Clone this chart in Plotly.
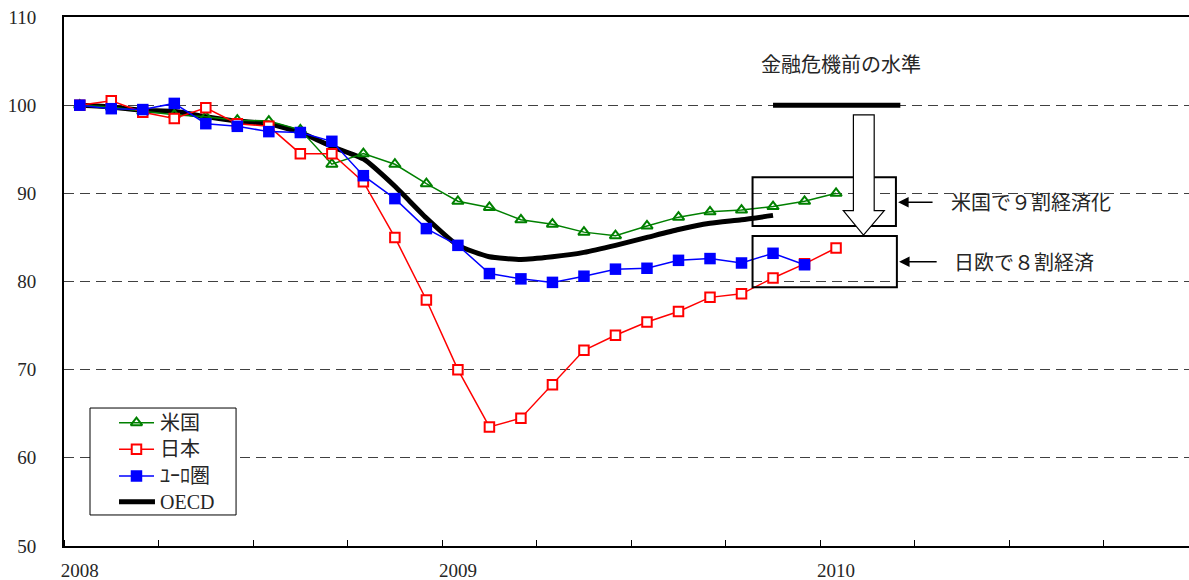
import plotly.graph_objects as go

# Monthly index, Jan 2008 = 0
months_us = list(range(25))
months_jp = list(range(25))
months_eu = list(range(24))
months_oecd = list(range(23))

us = [100.0, 99.8, 99.3, 98.9, 98.7, 98.3, 98.2, 97.2, 93.3, 94.5, 93.3, 91.1,
      89.1, 88.4, 87.0, 86.5, 85.6, 85.2, 86.3, 87.3, 87.9, 88.1, 88.5, 89.1, 90.0]
japan = [100.0, 100.5, 99.2, 98.5, 99.7, 97.9, 97.6, 94.5, 94.5, 91.3, 85.0, 77.9,
         70.0, 63.5, 64.5, 68.3, 72.2, 73.9, 75.4, 76.6, 78.2, 78.6, 80.4, 82.0, 83.8]
euro = [100.0, 99.6, 99.5, 100.2, 97.9, 97.6, 97.0, 96.9, 95.9, 92.0, 89.4, 86.0,
        84.1, 80.9, 80.3, 79.9, 80.6, 81.4, 81.5, 82.4, 82.6, 82.1, 83.2, 81.9]
oecd = [100.0, 99.8, 99.4, 99.3, 98.7, 98.2, 97.9, 96.9, 95.3, 93.9, 90.8, 87.2,
        84.1, 82.8, 82.5, 82.8, 83.3, 84.1, 85.0, 85.9, 86.6, 87.0, 87.5]

series_names = ["米国", "日本", "ﾕｰﾛ圏", "OECD"]

year_ticks = [0, 12, 24]
year_labels = ["2008", "2009", "2010"]
quarter_ticks = [q - 0.5 for q in range(0, 37, 3)]
y_ticks = [50, 60, 70, 80, 90, 100, 110]

SERIF = "Liberation Serif, Noto Sans CJK JP, serif"
JP = "Noto Sans CJK JP, sans-serif"
TXT = "#262626"
GREEN, RED, BLUE = "#008000", "#FF0000", "#0000FF"

styles = {
    "米国": dict(line=dict(color=GREEN, width=1.5),
               marker=dict(symbol="triangle-up-open", size=10, color=GREEN,
                           line=dict(width=2, color=GREEN))),
    "日本": dict(line=dict(color=RED, width=1.5),
               marker=dict(symbol="square", size=9.5, color="white",
                           line=dict(width=2, color=RED))),
    "ﾕｰﾛ圏": dict(line=dict(color=BLUE, width=1.5),
                 marker=dict(symbol="square", size=11.5, color=BLUE,
                             line=dict(width=0))),
}

fig = go.Figure()

# Legend frame (white fill hides the gridline behind it)
lg_x0, lg_x1, lg_y0, lg_y1 = 0.325, 4.96, 53.52, 65.65
lg_rows = [63.99, 60.97, 57.94, 55.02]
lg_s0, lg_s1, lg_mid, lg_txt = 1.246, 2.357, 1.80, 2.483
fig.add_trace(go.Scatter(
    x=[lg_x0, lg_x1, lg_x1, lg_x0, lg_x0], y=[lg_y0, lg_y0, lg_y1, lg_y1, lg_y0],
    mode="lines", fill="toself", fillcolor="white", showlegend=False,
    hoverinfo="skip", line=dict(color="black", width=1),
))

fig.add_trace(go.Scatter(
    x=months_oecd, y=oecd, name="OECD", mode="lines", showlegend=False,
    line=dict(color="black", width=5, shape="spline", smoothing=0.5),
))
for name, xs, ys in [("米国", months_us, us), ("日本", months_jp, japan),
                     ("ﾕｰﾛ圏", months_eu, euro)]:
    fig.add_trace(go.Scatter(x=xs, y=ys, name=name, mode="lines+markers",
                             showlegend=False, **styles[name]))

# Legend samples and labels
for name, yy in zip(series_names, lg_rows):
    if name == "OECD":
        fig.add_trace(go.Scatter(x=[lg_s0, lg_s1 + 0.03], y=[yy, yy],
                                 mode="lines", showlegend=False, hoverinfo="skip",
                                 line=dict(color="black", width=5)))
    else:
        fig.add_trace(go.Scatter(x=[lg_s0, lg_s1], y=[yy, yy], mode="lines",
                                 showlegend=False, hoverinfo="skip",
                                 line=styles[name]["line"]))
        fig.add_trace(go.Scatter(x=[lg_mid], y=[yy], mode="markers",
                                 showlegend=False, hoverinfo="skip",
                                 marker=styles[name]["marker"]))
    fig.add_annotation(x=lg_txt, y=yy, text=name, showarrow=False,
                       xanchor="left", yanchor="middle",
                       font=dict(family=SERIF, size=20, color=TXT))

# Pre-crisis level bar
fig.add_shape(type="line", x0=22, x1=26.04, y0=100, y1=100,
              line=dict(color="black", width=5), layer="above")

# Boxes around the latest readings
fig.add_shape(type="rect", x0=21.35, x1=25.9, y0=86.3, y1=91.82,
              line=dict(color="black", width=2), fillcolor="rgba(0,0,0,0)")
fig.add_shape(type="rect", x0=21.35, x1=25.93, y0=79.34, y1=85.16,
              line=dict(color="black", width=2), fillcolor="rgba(0,0,0,0)")

# Hollow downward arrow
ax_l, ax_r = 24.55, 25.21
hd_l, hd_r, tip = 24.23, 25.53, 24.87
y_top, y_head, y_tip = 98.89, 88.03, 85.27
fig.add_shape(
    type="path",
    path=(f"M {ax_l} {y_top} L {ax_r} {y_top} L {ax_r} {y_head} L {hd_r} {y_head} "
          f"L {tip} {y_tip} L {hd_l} {y_head} L {ax_l} {y_head} Z"),
    line=dict(color="black", width=1.2), fillcolor="white", layer="above",
)

# Small pointer arrows
for tail_x, tip_x, yy in [(27.11, 25.97, 88.99), (27.24, 26.0, 82.25)]:
    fig.add_annotation(x=tip_x, y=yy, ax=tail_x, ay=yy, axref="x", ayref="y",
                       text="", showarrow=True, arrowhead=2, arrowsize=1.4,
                       arrowwidth=1.5, arrowcolor="black")

fig.add_annotation(x=21.56, y=104.78, text="金融危機前の水準", showarrow=False,
                   xanchor="left", yanchor="middle",
                   font=dict(family=JP, size=20, color=TXT))
fig.add_annotation(x=27.58, y=89.02, text="米国で９割経済化", showarrow=False,
                   xanchor="left", yanchor="middle",
                   font=dict(family=JP, size=20, color=TXT))
fig.add_annotation(x=27.68, y=82.25, text="日欧で８割経済", showarrow=False,
                   xanchor="left", yanchor="middle",
                   font=dict(family=JP, size=20, color=TXT))

fig.update_layout(
    width=1189, height=580,
    margin=dict(l=64, r=0, t=17, b=34),
    paper_bgcolor="white", plot_bgcolor="white",
    showlegend=False,
    xaxis=dict(
        range=[-0.5, 35.2], showgrid=False, zeroline=False, automargin=False,
        showline=True, linecolor="black", linewidth=2, mirror=True,
        tickvals=year_ticks, ticktext=year_labels, ticks="",
        ticklabelstandoff=6,
        tickfont=dict(family=SERIF, size=19, color=TXT),
        minor=dict(tickvals=quarter_ticks, ticks="inside", ticklen=6,
                   tickcolor="black", tickwidth=1, showgrid=False),
    ),
    yaxis=dict(
        range=[50, 110], tickvals=y_ticks, ticks="", automargin=False,
        showgrid=True, gridcolor="#404040", gridwidth=1, griddash="10px,6px",
        zeroline=False, showline=True, linecolor="black", linewidth=2,
        ticklabelstandoff=22,
        tickfont=dict(family=SERIF, size=19, color=TXT),
    ),
)

fig.write_html("out.html")
